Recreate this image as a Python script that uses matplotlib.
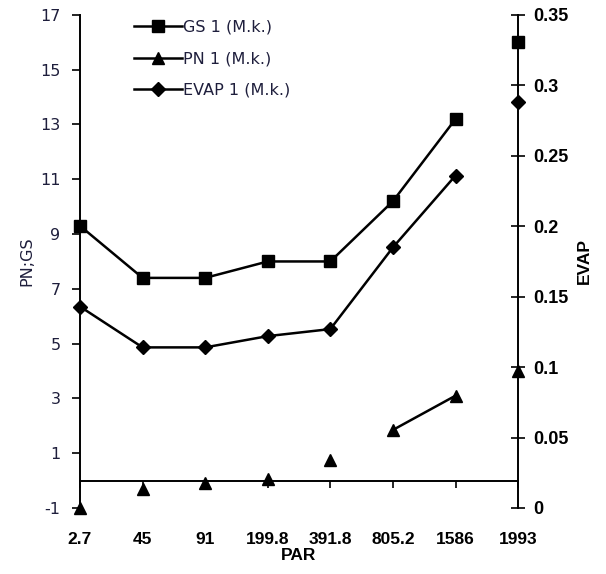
import matplotlib
matplotlib.use('Agg')
import matplotlib.pyplot as plt

plt.rcParams['axes.unicode_minus'] = False

par = ["2.7", "45", "91", "199.8", "391.8", "805.2", "1586", "1993"]
gs = [9.3, 7.4, 7.4, 8.0, 8.0, 10.2, 13.2, 16.0]
pn = [-1.0, -0.3, -0.07, 0.07, 0.75, 1.85, 3.1, 4.0]
evap = [0.143, 0.114, 0.114, 0.122, 0.127, 0.185, 0.236, 0.288]

narrow = ['Liberation Sans Narrow', 'Liberation Sans', 'DejaVu Sans']
txtcol = '#1e1e3c'

fig = plt.figure(figsize=(6.06, 5.74), dpi=100)
ax = fig.add_axes([0.132, 0.115, 0.723, 0.859])
ax2 = ax.twinx()

x = list(range(len(par)))

# lines only join some points, like the original
ax.plot(x[:7], gs[:7], color='black', lw=1.8, zorder=3)
ax.plot(x, gs, ls='none', marker='s', ms=8.5, color='black', zorder=4, clip_on=False)
ax.plot(x[5:7], pn[5:7], color='black', lw=1.8, zorder=3)
ax.plot(x, pn, ls='none', marker='^', ms=8.5, color='black', zorder=4, clip_on=False)
ax2.plot(x[:7], evap[:7], color='black', lw=1.8, zorder=3)
ax2.plot(x, evap, ls='none', marker='D', ms=7, color='black', zorder=4, clip_on=False)

# legend handles
h1, = ax.plot([], [], color='black', lw=1.8, marker='s', ms=8.5)
h2, = ax.plot([], [], color='black', lw=1.8, marker='^', ms=8.5)
h3, = ax.plot([], [], color='black', lw=1.8, marker='D', ms=7)
leg = ax.legend([h1, h2, h3], ["GS 1 (M.k.)", "PN 1 (M.k.)", "EVAP 1 (M.k.)"],
                loc='upper left', bbox_to_anchor=(0.09, 1.02), frameon=False,
                fontsize=11.5, handlelength=3.0, labelspacing=1.05, handletextpad=0.1)
for t in leg.get_texts():
    t.set_color(txtcol)

ax.set_xlim(0, 7)
ax.set_ylim(-1, 17)
ax2.set_ylim(0, 0.35)

ax.set_yticks(range(-1, 18, 2))
ax.tick_params(axis='y', direction='out', length=6, width=1.2, labelsize=11.5,
               labelcolor=txtcol, pad=8)
ax2.set_yticks([0, 0.05, 0.1, 0.15, 0.2, 0.25, 0.3, 0.35])
ax2.set_yticklabels(["0", "0.05", "0.1", "0.15", "0.2", "0.25", "0.3", "0.35"],
                    family=narrow, fontweight='bold', fontsize=13)
ax2.tick_params(axis='y', direction='inout', length=10, width=1.2, pad=6)

ax.spines['bottom'].set_position(('data', 0))
ax.set_xticks(x)
ax.set_xticklabels(par, family=narrow, fontweight='bold', fontsize=12.5)
ax.tick_params(axis='x', direction='out', length=5, width=1.2, pad=32)

for a in (ax, ax2):
    a.spines['top'].set_visible(False)
    for s in a.spines.values():
        s.set_linewidth(1.4)
ax2.spines['bottom'].set_visible(False)
ax2.spines['left'].set_visible(False)
ax.spines['right'].set_visible(False)

ax.set_xlabel("PAR", family=narrow, fontweight='bold', fontsize=12.5, labelpad=1)
ax.set_ylabel("PN;GS", fontsize=11.5, color=txtcol, labelpad=4)
ax2.set_ylabel("EVAP", family=narrow, fontweight='bold', fontsize=12.5, labelpad=6)

fig.savefig("out.png", dpi=100)
